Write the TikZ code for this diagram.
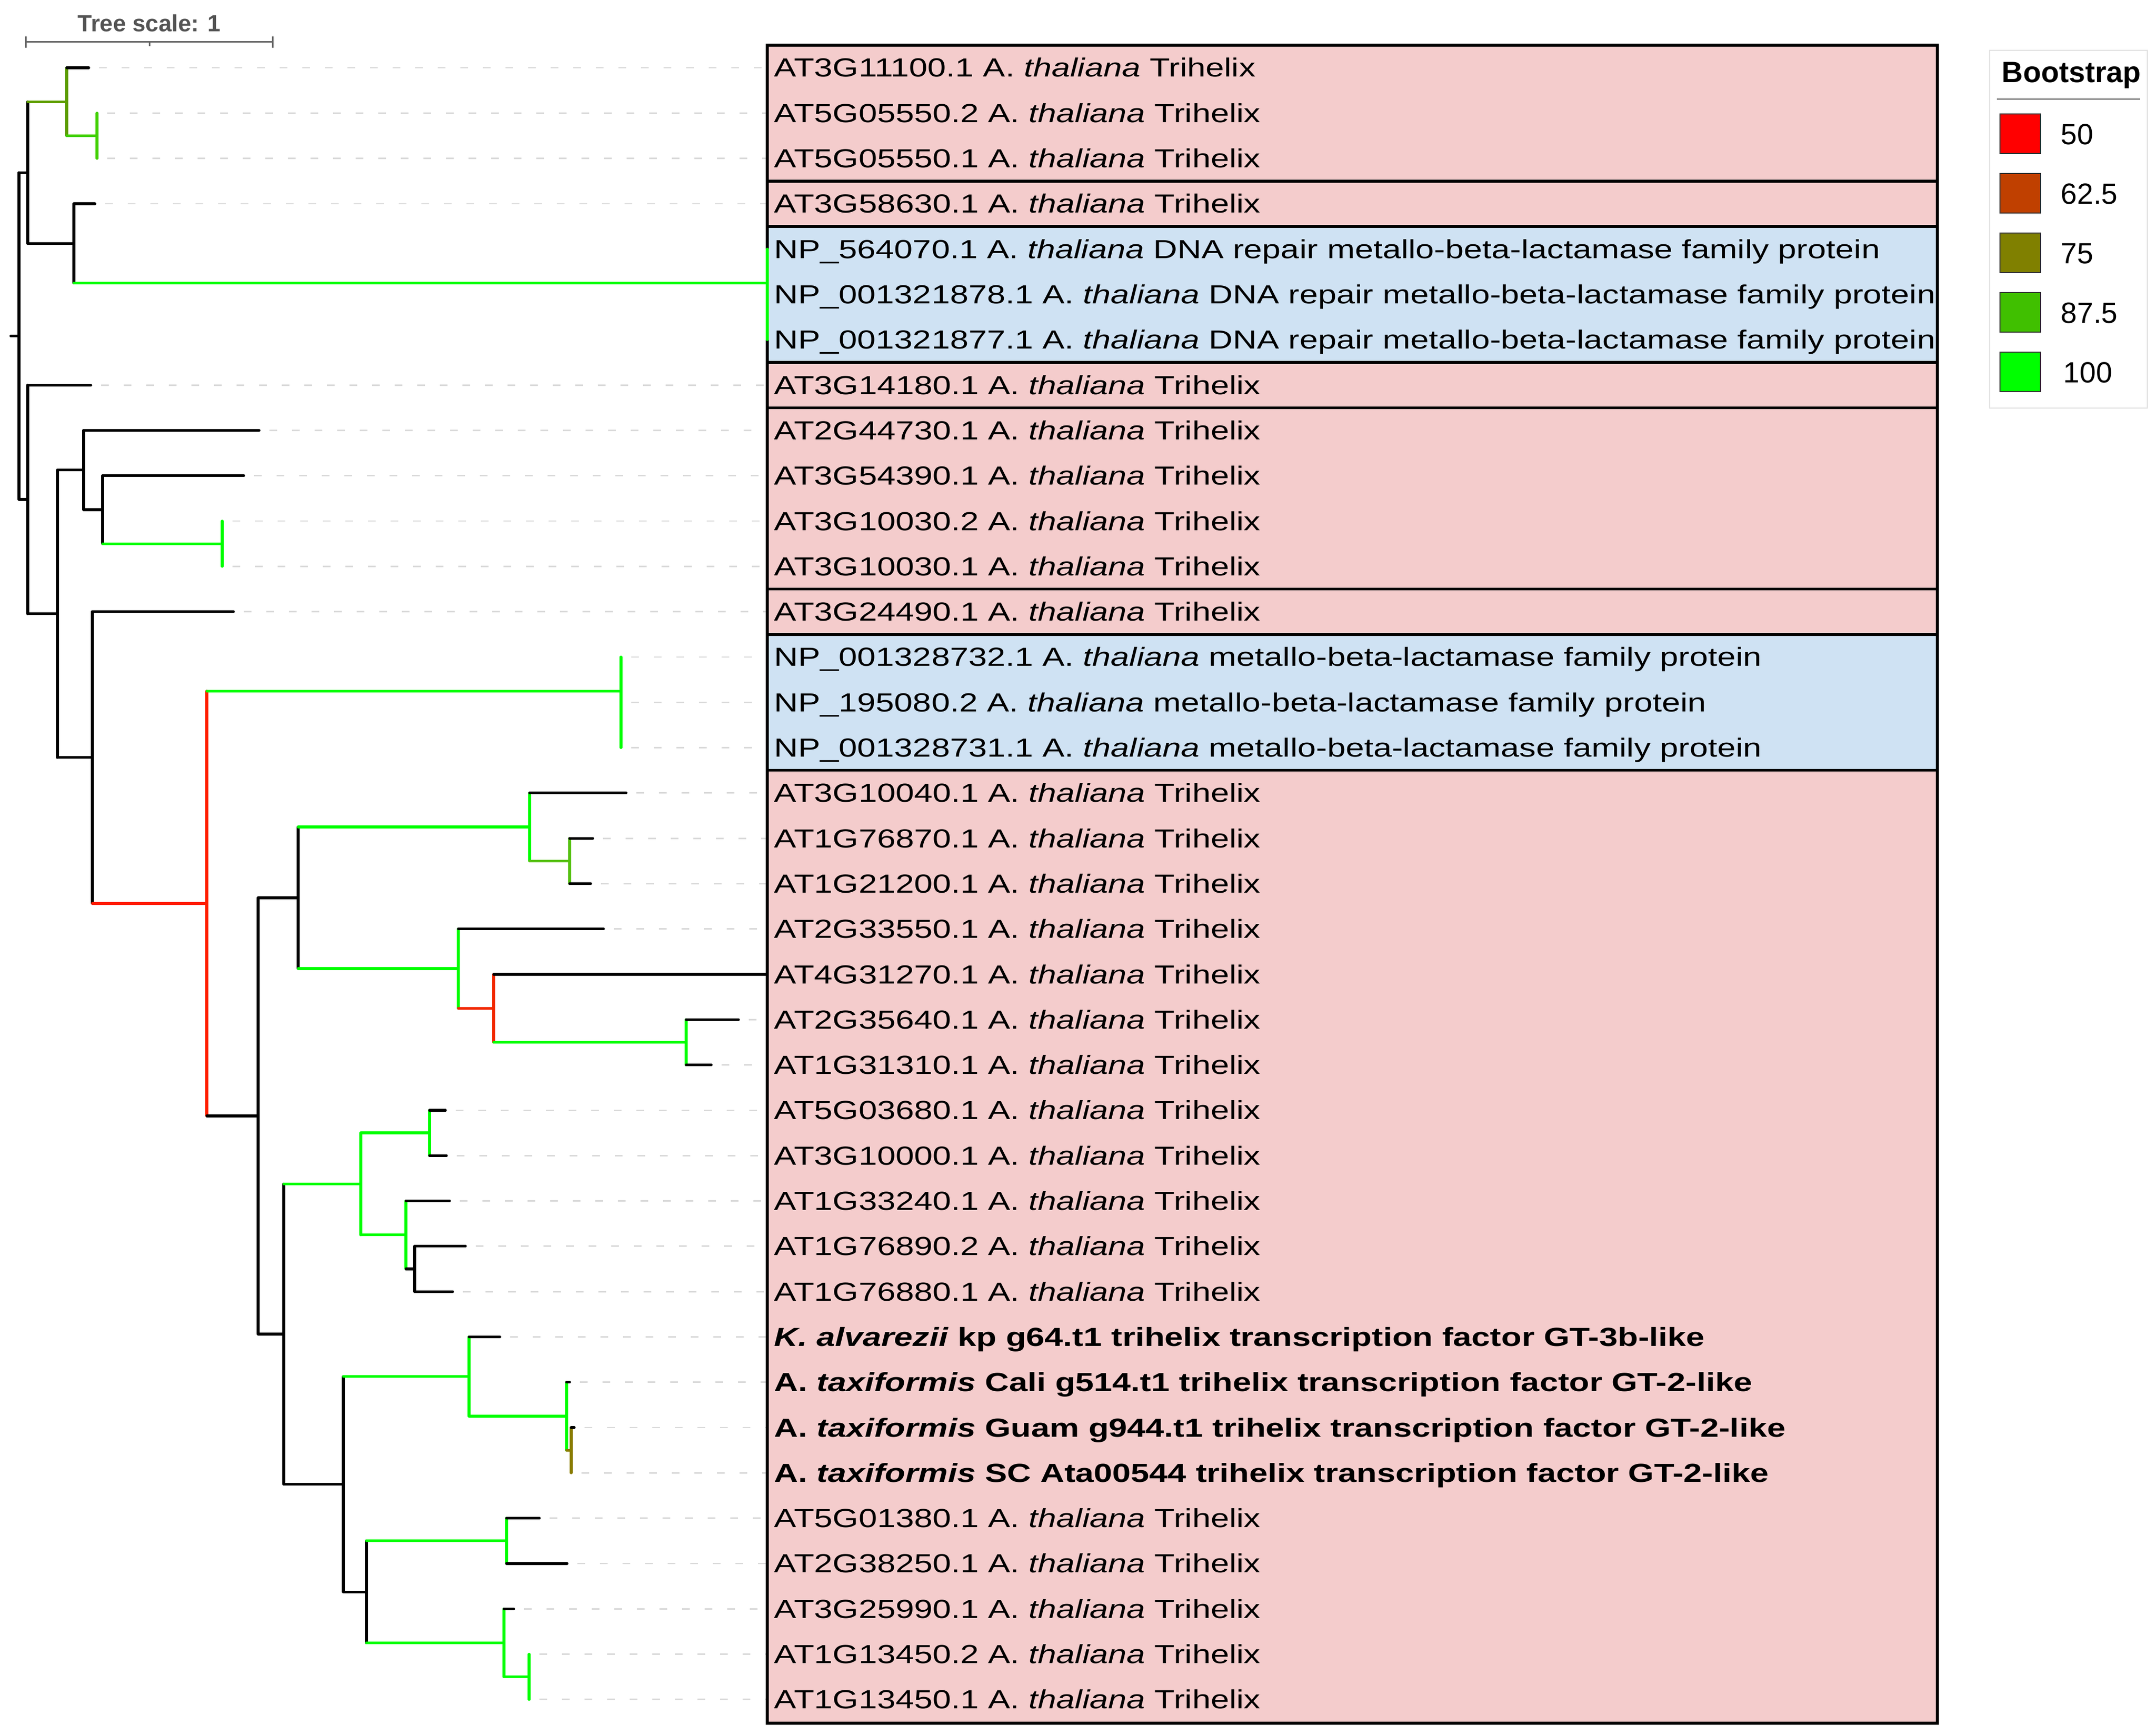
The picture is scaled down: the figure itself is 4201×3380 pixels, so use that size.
\documentclass[tikz,border=0pt]{standalone}
\usepackage{fontspec}
\setmainfont{Liberation Sans}
\newfontfamily\labfont[FakeStretch=1.272]{Liberation Sans}
\definecolor{gfull}{HTML}{00FF00}
\definecolor{gB}{HTML}{5E9E00}
\definecolor{gC}{HTML}{40D000}
\definecolor{gQ}{HTML}{55C010}
\definecolor{rL}{HTML}{FF1E00}
\definecolor{rS}{HTML}{F22800}
\definecolor{oAC}{HTML}{8A7D00}
\definecolor{pinkbox}{HTML}{F4CCCC}
\definecolor{bluebox}{HTML}{CFE2F3}
\definecolor{leadgray}{HTML}{D9D9D9}
\definecolor{sbgray}{HTML}{666666}
\definecolor{lg50}{HTML}{FF0000}
\definecolor{lg62}{HTML}{C04000}
\definecolor{lg75}{HTML}{808000}
\definecolor{lg87}{HTML}{40C000}
\definecolor{lg100}{HTML}{00FF00}
\newcommand\thal{A. \textit{thaliana}}
\newcommand\brn[3]{\draw[br,#1] (#2 |- #3) -- (#3);}
\newcommand\clade[4]{\draw[br,#1] (#2 |- #3) -- (#2 |- #4);}
\begin{document}
\begin{tikzpicture}[x=0.1mm,y=-0.1mm,
  br/.style={line width=0.52mm,line cap=round},
  lead/.style={line width=0.28mm,color=leadgray,dash pattern=on 1.5mm off 2.9mm},
  grp/.style={draw=black,line width=0.55mm},
  lab/.style={anchor=base west,inner sep=0pt,font=\labfont\fontsize{14.5}{17}\selectfont},
  blab/.style={anchor=base west,inner sep=0pt,font=\labfont\bfseries\fontsize{14.5}{17}\selectfont},
  legtxt/.style={anchor=base west,inner sep=0pt,font=\fontsize{16.2}{19}\selectfont},
  swatch/.style={draw=black!80,line width=0.25mm},
  sb/.style={line width=0.3mm,color=sbgray}]
\useasboundingbox (0,0) rectangle (4201,3380);

% ---------- scale bar ----------
\coordinate (sbL) at (50,82);
\coordinate (sbR) at (531,82);
\coordinate (sbM) at (291,82);
\draw[sb] (sbL) -- (sbR);
\draw[sb] ([yshift=1.1mm]sbL) -- ([yshift=-1.1mm]sbL);
\draw[sb] ([yshift=1.1mm]sbR) -- ([yshift=-1.1mm]sbR);
\draw[sb] (sbM) -- ([yshift=-0.8mm]sbM);
\node[anchor=base,inner sep=0pt,text=black!67,font=\bfseries\fontsize{13}{15}\selectfont] (sbt) at (291,62) {Tree scale: 1};

% ---------- leaf tips ----------
\coordinate (bx) at (1495,0);
\coordinate (l1) at (173,132);
\coordinate (l2) at (189,220.3);
\coordinate (l3) at (189,308.6);
\coordinate (l4) at (185,396.9);
\coordinate (l5) at (1495,485.2);
\coordinate (l6) at (1495,573.5);
\coordinate (l7) at (1495,661.8);
\coordinate (l8) at (177,750.1);
\coordinate (l9) at (505,838.4);
\coordinate (l10) at (475,926.7);
\coordinate (l11) at (433,1015);
\coordinate (l12) at (433,1103.3);
\coordinate (l13) at (455,1191.6);
\coordinate (l14) at (1210,1279.9);
\coordinate (l15) at (1210,1368.2);
\coordinate (l16) at (1210,1456.5);
\coordinate (l17) at (1220,1544.8);
\coordinate (l18) at (1155,1633.1);
\coordinate (l19) at (1151,1721.4);
\coordinate (l20) at (1176,1809.7);
\coordinate (l21) at (1495,1898);
\coordinate (l22) at (1439,1986.3);
\coordinate (l23) at (1386,2074.6);
\coordinate (l24) at (868,2162.9);
\coordinate (l25) at (870,2251.2);
\coordinate (l26) at (876,2339.5);
\coordinate (l27) at (907,2427.8);
\coordinate (l28) at (882,2516.1);
\coordinate (l29) at (974,2604.4);
\coordinate (l30) at (1110,2692.7);
\coordinate (l31) at (1119,2781);
\coordinate (l32) at (1113,2869.3);
\coordinate (l33) at (1051,2957.6);
\coordinate (l34) at (1105,3045.9);
\coordinate (l35) at (1001,3134.2);
\coordinate (l36) at (1031,3222.5);
\coordinate (l37) at (1031,3310.8);

% ---------- leader lines ----------
\foreach \k in {1,2,3,4,8,9,10,11,12,13,14,15,16,17,18,19,20,22,23,24,25,26,27,28,29,30,31,32,33,34,35,36,37}
  \draw[lead] ([xshift=2mm]l\k) -- (l\k -| bx);

% ---------- label groups ----------
\fill[pinkbox] (1495,88) rectangle (3775,3357);
\fill[bluebox] (1495,441.05) rectangle (3775,705.95);
\fill[bluebox] (1495,1235.75) rectangle (3775,1500.65);
\draw[grp] (1495,88) rectangle (3775,352.75);
\draw[grp] (1495,352.75) rectangle (3775,441.05);
\draw[grp] (1495,441.05) rectangle (3775,705.95);
\draw[grp] (1495,705.95) rectangle (3775,794.25);
\draw[grp] (1495,794.25) rectangle (3775,1147.45);
\draw[grp] (1495,1147.45) rectangle (3775,1235.75);
\draw[grp] (1495,1235.75) rectangle (3775,1500.65);
\draw[grp] (1495,1500.65) rectangle (3775,3357);

% ---------- labels ----------
\node[lab] (t1) at (1508,150) {AT3G11100.1 \thal\ Trihelix};
\node[lab] (t2) at (1508,238.3) {AT5G05550.2 \thal\ Trihelix};
\node[lab] (t3) at (1508,326.6) {AT5G05550.1 \thal\ Trihelix};
\node[lab] (t4) at (1508,414.9) {AT3G58630.1 \thal\ Trihelix};
\node[lab] (t5) at (1508,503.2) {NP\_564070.1 \thal\ DNA repair metallo-beta-lactamase family protein};
\node[lab] (t6) at (1508,591.5) {NP\_001321878.1 \thal\ DNA repair metallo-beta-lactamase family protein};
\node[lab] (t7) at (1508,679.8) {NP\_001321877.1 \thal\ DNA repair metallo-beta-lactamase family protein};
\node[lab] (t8) at (1508,768.1) {AT3G14180.1 \thal\ Trihelix};
\node[lab] (t9) at (1508,856.4) {AT2G44730.1 \thal\ Trihelix};
\node[lab] (t10) at (1508,944.7) {AT3G54390.1 \thal\ Trihelix};
\node[lab] (t11) at (1508,1033) {AT3G10030.2 \thal\ Trihelix};
\node[lab] (t12) at (1508,1121.3) {AT3G10030.1 \thal\ Trihelix};
\node[lab] (t13) at (1508,1209.6) {AT3G24490.1 \thal\ Trihelix};
\node[lab] (t14) at (1508,1297.9) {NP\_001328732.1 \thal\ metallo-beta-lactamase family protein};
\node[lab] (t15) at (1508,1386.2) {NP\_195080.2 \thal\ metallo-beta-lactamase family protein};
\node[lab] (t16) at (1508,1474.5) {NP\_001328731.1 \thal\ metallo-beta-lactamase family protein};
\node[lab] (t17) at (1508,1562.8) {AT3G10040.1 \thal\ Trihelix};
\node[lab] (t18) at (1508,1651.1) {AT1G76870.1 \thal\ Trihelix};
\node[lab] (t19) at (1508,1739.4) {AT1G21200.1 \thal\ Trihelix};
\node[lab] (t20) at (1508,1827.7) {AT2G33550.1 \thal\ Trihelix};
\node[lab] (t21) at (1508,1916) {AT4G31270.1 \thal\ Trihelix};
\node[lab] (t22) at (1508,2004.3) {AT2G35640.1 \thal\ Trihelix};
\node[lab] (t23) at (1508,2092.6) {AT1G31310.1 \thal\ Trihelix};
\node[lab] (t24) at (1508,2180.9) {AT5G03680.1 \thal\ Trihelix};
\node[lab] (t25) at (1508,2269.2) {AT3G10000.1 \thal\ Trihelix};
\node[lab] (t26) at (1508,2357.5) {AT1G33240.1 \thal\ Trihelix};
\node[lab] (t27) at (1508,2445.8) {AT1G76890.2 \thal\ Trihelix};
\node[lab] (t28) at (1508,2534.1) {AT1G76880.1 \thal\ Trihelix};
\node[blab] (t29) at (1508,2622.4) {\textit{K. alvarezii} kp g64.t1 trihelix transcription factor GT-3b-like};
\node[blab] (t30) at (1508,2710.7) {A. \textit{taxiformis} Cali g514.t1 trihelix transcription factor GT-2-like};
\node[blab] (t31) at (1508,2799) {A. \textit{taxiformis} Guam g944.t1 trihelix transcription factor GT-2-like};
\node[blab] (t32) at (1508,2887.3) {A. \textit{taxiformis} SC Ata00544 trihelix transcription factor GT-2-like};
\node[lab] (t33) at (1508,2975.6) {AT5G01380.1 \thal\ Trihelix};
\node[lab] (t34) at (1508,3063.9) {AT2G38250.1 \thal\ Trihelix};
\node[lab] (t35) at (1508,3152.2) {AT3G25990.1 \thal\ Trihelix};
\node[lab] (t36) at (1508,3240.5) {AT1G13450.2 \thal\ Trihelix};
\node[lab] (t37) at (1508,3328.8) {AT1G13450.1 \thal\ Trihelix};

% ---------- internal nodes ----------
\coordinate (root0) at (21,654.6);
\coordinate (nR) at (37,654.6);
\coordinate (nA) at (54,336.2);
\coordinate (nB) at (130,198.2);
\coordinate (nC) at (189,264.45);
\coordinate (nD) at (144,474.2);
\coordinate (nE) at (1495,551.4);
\coordinate (nF) at (54,972.9);
\coordinate (nG) at (112,1195.75);
\coordinate (nH) at (163,915.7);
\coordinate (nI) at (200,992.9);
\coordinate (nJ) at (433,1059.15);
\coordinate (nK) at (180,1475.8);
\coordinate (nL) at (403,1760);
\coordinate (nM) at (1210,1346.1);
\coordinate (nN) at (503,2174);
\coordinate (nO) at (581,1749);
\coordinate (nP) at (1032,1611);
\coordinate (nQ) at (1110,1677.25);
\coordinate (nRr) at (893,1887);
\coordinate (nS) at (962,1964.2);
\coordinate (nT) at (1337,2030.45);
\coordinate (nU) at (553,2598.9);
\coordinate (nV) at (703,2306.4);
\coordinate (nW) at (837,2207);
\coordinate (nX) at (791,2405.7);
\coordinate (nY) at (808,2472);
\coordinate (nZ) at (669,2891.4);
\coordinate (nAA) at (914,2681.7);
\coordinate (nAB) at (1104,2758.9);
\coordinate (nAC) at (1113,2825.2);
\coordinate (nAD) at (714,3101.1);
\coordinate (nAE) at (987,3001.75);
\coordinate (nAF) at (982,3200.4);
\coordinate (nAG) at (1031,3266.65);

% ---------- clade (vertical) lines ----------
\clade{black}{nR}{nA}{nF}
\clade{black}{nA}{nB}{nD}
\clade{gB}{nB}{l1}{nC}
\clade{gC}{nC}{l2}{l3}
\clade{black}{nD}{l4}{nE}
\clade{gfull}{nE}{l5}{l7}
\clade{black}{nF}{l8}{nG}
\clade{black}{nG}{nH}{nK}
\clade{black}{nH}{l9}{nI}
\clade{black}{nI}{l10}{nJ}
\clade{gfull}{nJ}{l11}{l12}
\clade{black}{nK}{l13}{nL}
\clade{rL}{nL}{nM}{nN}
\clade{gfull}{nM}{l14}{l16}
\clade{black}{nN}{nO}{nU}
\clade{black}{nO}{nP}{nRr}
\clade{gfull}{nP}{l17}{nQ}
\clade{gQ}{nQ}{l18}{l19}
\clade{gfull}{nRr}{l20}{nS}
\clade{rS}{nS}{l21}{nT}
\clade{gfull}{nT}{l22}{l23}
\clade{black}{nU}{nV}{nZ}
\clade{gfull}{nV}{nW}{nX}
\clade{gfull}{nW}{l24}{l25}
\clade{gfull}{nX}{l26}{nY}
\clade{black}{nY}{l27}{l28}
\clade{black}{nZ}{nAA}{nAD}
\clade{gfull}{nAA}{l29}{nAB}
\clade{gfull}{nAB}{l30}{nAC}
\clade{oAC}{nAC}{l31}{l32}
\clade{black}{nAD}{nAE}{nAF}
\clade{gfull}{nAE}{l33}{l34}
\clade{gfull}{nAF}{l35}{nAG}
\clade{gfull}{nAG}{l36}{l37}

% ---------- branches (horizontal lines) ----------
\draw[br] (root0) -- (nR);
\brn{black}{nR}{nA}
\brn{black}{nR}{nF}
\brn{gB}{nA}{nB}
\brn{black}{nA}{nD}
\brn{black}{nB}{l1}
\brn{gC}{nB}{nC}
\brn{black}{nD}{l4}
\brn{gfull}{nD}{nE}
\brn{black}{nF}{l8}
\brn{black}{nF}{nG}
\brn{black}{nG}{nH}
\brn{black}{nG}{nK}
\brn{black}{nH}{l9}
\brn{black}{nH}{nI}
\brn{black}{nI}{l10}
\brn{gfull}{nI}{nJ}
\brn{black}{nK}{l13}
\brn{rL}{nK}{nL}
\brn{gfull}{nL}{nM}
\brn{black}{nL}{nN}
\brn{black}{nN}{nO}
\brn{black}{nN}{nU}
\brn{gfull}{nO}{nP}
\brn{gfull}{nO}{nRr}
\brn{black}{nP}{l17}
\brn{gQ}{nP}{nQ}
\brn{black}{nQ}{l18}
\brn{black}{nQ}{l19}
\brn{black}{nRr}{l20}
\brn{rS}{nRr}{nS}
\brn{black}{nS}{l21}
\brn{gfull}{nS}{nT}
\brn{black}{nT}{l22}
\brn{black}{nT}{l23}
\brn{gfull}{nU}{nV}
\brn{black}{nU}{nZ}
\brn{gfull}{nV}{nW}
\brn{gfull}{nV}{nX}
\brn{black}{nW}{l24}
\brn{black}{nW}{l25}
\brn{black}{nX}{l26}
\brn{black}{nX}{nY}
\brn{black}{nY}{l27}
\brn{black}{nY}{l28}
\brn{gfull}{nZ}{nAA}
\brn{black}{nZ}{nAD}
\brn{black}{nAA}{l29}
\brn{gfull}{nAA}{nAB}
\brn{black}{nAB}{l30}
\brn{oAC}{nAB}{nAC}
\brn{black}{nAC}{l31}
\brn{gfull}{nAD}{nAE}
\brn{gfull}{nAD}{nAF}
\brn{black}{nAE}{l33}
\brn{black}{nAE}{l34}
\brn{black}{nAF}{l35}
\brn{gfull}{nAF}{nAG}

% ---------- legend ----------
\draw[draw=black!12,fill=white,line width=0.2mm] (3877,98) rectangle (4184,795);
\node[anchor=base west,inner sep=0pt,font=\bfseries\fontsize{16.3}{19}\selectfont] (legt) at (3900,161) {Bootstrap};
\draw[line width=0.2mm,black!67] (3891,193) -- (4170,193);
\draw[swatch,fill=lg50] (3897,222) rectangle (3976,299);
\draw[swatch,fill=lg62] (3897,338) rectangle (3976,415);
\draw[swatch,fill=lg75] (3897,454) rectangle (3976,531);
\draw[swatch,fill=lg87] (3897,570) rectangle (3976,647);
\draw[swatch,fill=lg100] (3897,686) rectangle (3976,763);
\node[legtxt] (v1) at (4015,281.5) {50};
\node[legtxt] (v2) at (4015,397.5) {62.5};
\node[legtxt] (v3) at (4015,513.5) {75};
\node[legtxt] (v4) at (4015,629.5) {87.5};
\node[legtxt] (v5) at (4020,745.5) {100};
\end{tikzpicture}
\end{document}
